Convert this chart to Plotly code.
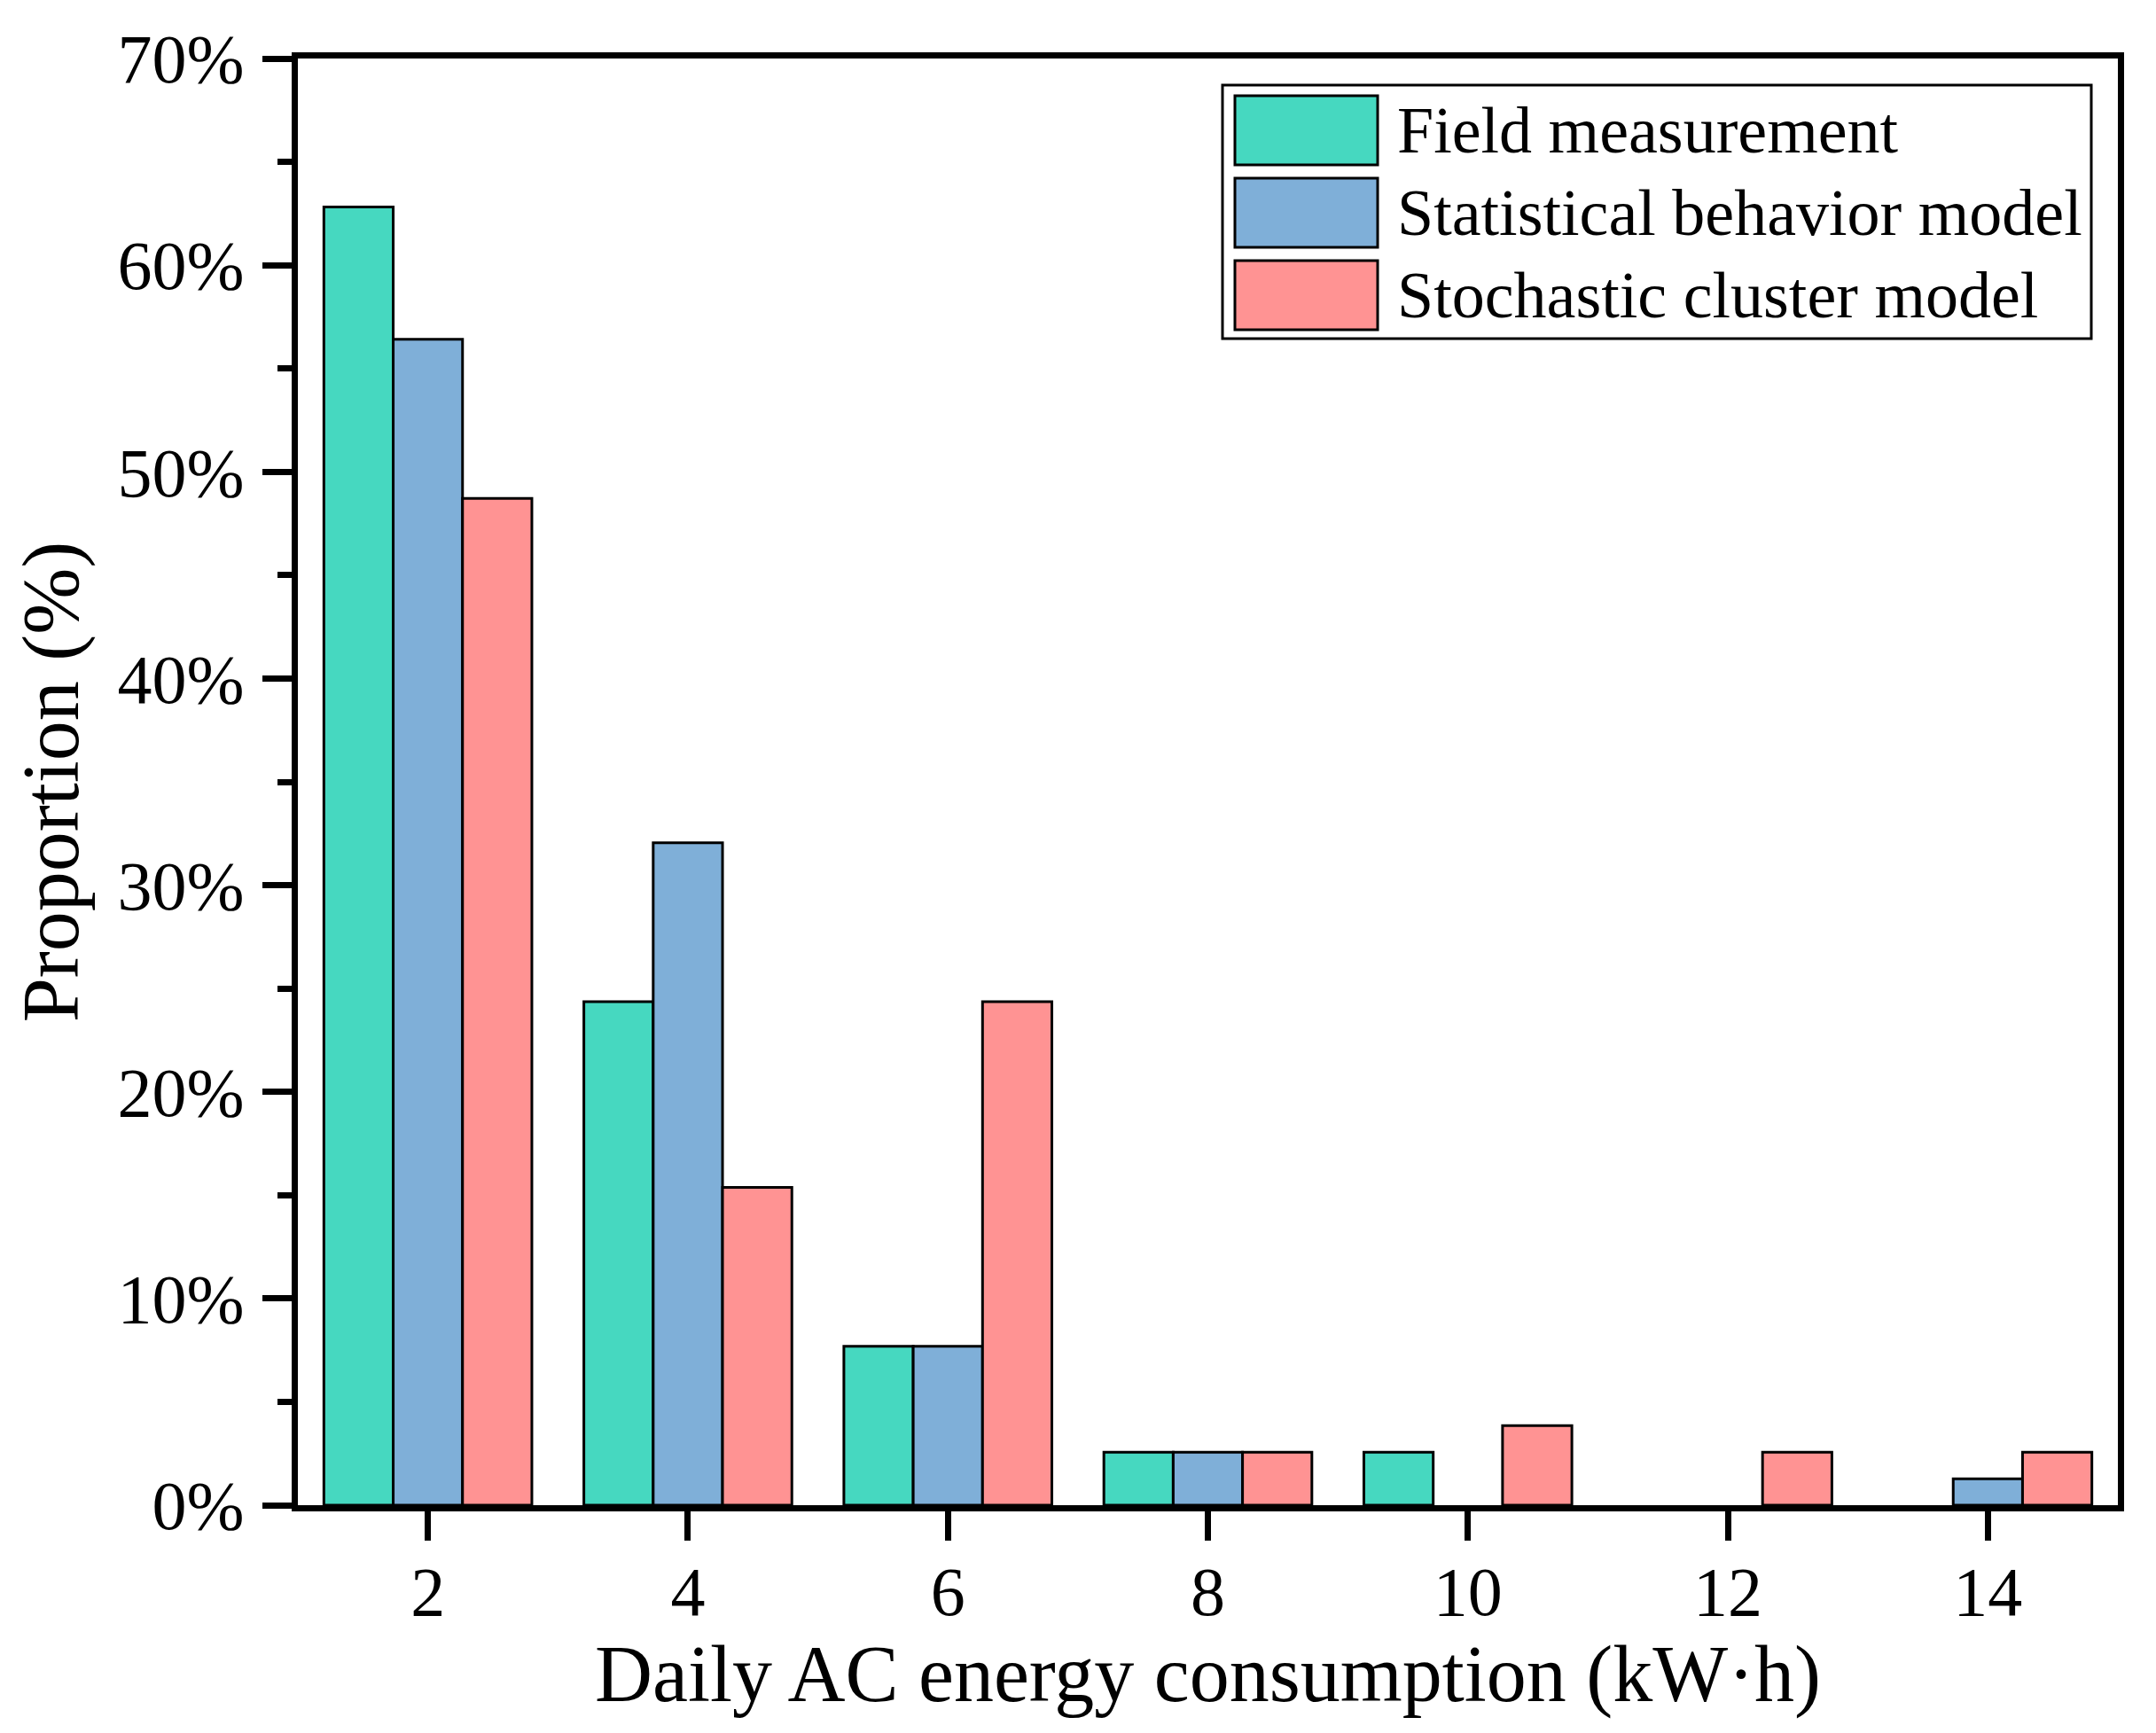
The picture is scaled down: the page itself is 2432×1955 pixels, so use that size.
import plotly.graph_objects as go

# ---- data ----
bins = [2, 4, 6, 8, 10, 12, 14]
field_measurement = [62.82, 24.36, 7.69, 2.56, 2.56, 0, 0]
statistical_model = [56.41, 32.05, 7.69, 2.56, 0, 0, 1.28]
stochastic_model = [48.72, 15.38, 24.36, 2.56, 3.85, 2.56, 2.56]
series_names = ["Field measurement", "Statistical behavior model", "Stochastic cluster model"]
series_values = [field_measurement, statistical_model, stochastic_model]
series_colors = ["#46D8C0", "#7FAFD8", "#FF9393"]
x_ticks = [2, 4, 6, 8, 10, 12, 14]
y_ticks = [0, 10, 20, 30, 40, 50, 60, 70]

W, H = 2432, 1955
L, R, T, B = 328, 51, 58, 265
FONT = "Liberation Serif, Times New Roman, serif"

fig = go.Figure()
for name, vals, col in zip(series_names, series_values, series_colors):
    fig.add_trace(go.Bar(
        x=bins, y=vals, name=name,
        marker=dict(color=col,
                    line=dict(color="black", width=[0 if v == 0 else 3 for v in vals])),
        showlegend=False,
    ))

# custom legend (large swatches like the reference), positioned in page pixels
pw, ph = W - L - R, H - T - B
def px2x(px):
    return (px - L) / pw
def py2y(py):
    return (H - B - py) / ph

shapes = [dict(type="rect", xref="paper", yref="paper",
               x0=px2x(1371), x1=px2x(2351), y0=py2y(374), y1=py2y(88),
               line=dict(color="black", width=3), fillcolor="white", layer="above")]
annotations = []
for i, (name, col) in enumerate(zip(series_names, series_colors)):
    top = 100 + i * 93
    shapes.append(dict(type="rect", xref="paper", yref="paper",
                       x0=px2x(1385), x1=px2x(1546), y0=py2y(top + 78), y1=py2y(top),
                       line=dict(color="black", width=3), fillcolor=col, layer="above"))
    annotations.append(dict(xref="paper", yref="paper", x=px2x(1566), y=py2y(top + 39),
                            text=name, showarrow=False, xanchor="left", yanchor="middle",
                            font=dict(family=FONT, size=74, color="black")))

fig.update_layout(
    width=W, height=H,
    margin=dict(l=L, r=R, t=T, b=B),
    paper_bgcolor="white", plot_bgcolor="white",
    barmode="group", bargap=0.2, bargroupgap=0,
    font=dict(family=FONT, color="black"),
    shapes=shapes, annotations=annotations,
    showlegend=False,
)
fig.update_xaxes(
    range=[1, 15], tickvals=x_ticks, ticktext=[str(v) for v in x_ticks],
    ticks="outside", ticklen=33, tickwidth=7, tickcolor="black",
    showline=True, linewidth=7, linecolor="black", mirror=True,
    showgrid=False, zeroline=False,
    tickfont=dict(family=FONT, size=78, color="black"),
    ticklabelstandoff=-10,
    title=dict(text="Daily AC energy consumption (kW·h)", standoff=6,
               font=dict(family=FONT, size=90, color="black")),
)
fig.update_yaxes(
    range=[0, 70], tickvals=y_ticks, ticktext=[f"{v}%" for v in y_ticks],
    ticks="outside", ticklen=33, tickwidth=7, tickcolor="black",
    minor=dict(dtick=5, ticks="outside", ticklen=16, tickwidth=7, tickcolor="black"),
    showline=True, linewidth=7, linecolor="black", mirror=True,
    showgrid=False, zeroline=False,
    tickfont=dict(family=FONT, size=78, color="black"),
    ticklabelstandoff=5,
    title=dict(text="Proportion (%)", standoff=22,
               font=dict(family=FONT, size=90, color="black")),
)

fig.write_html("out.html")
